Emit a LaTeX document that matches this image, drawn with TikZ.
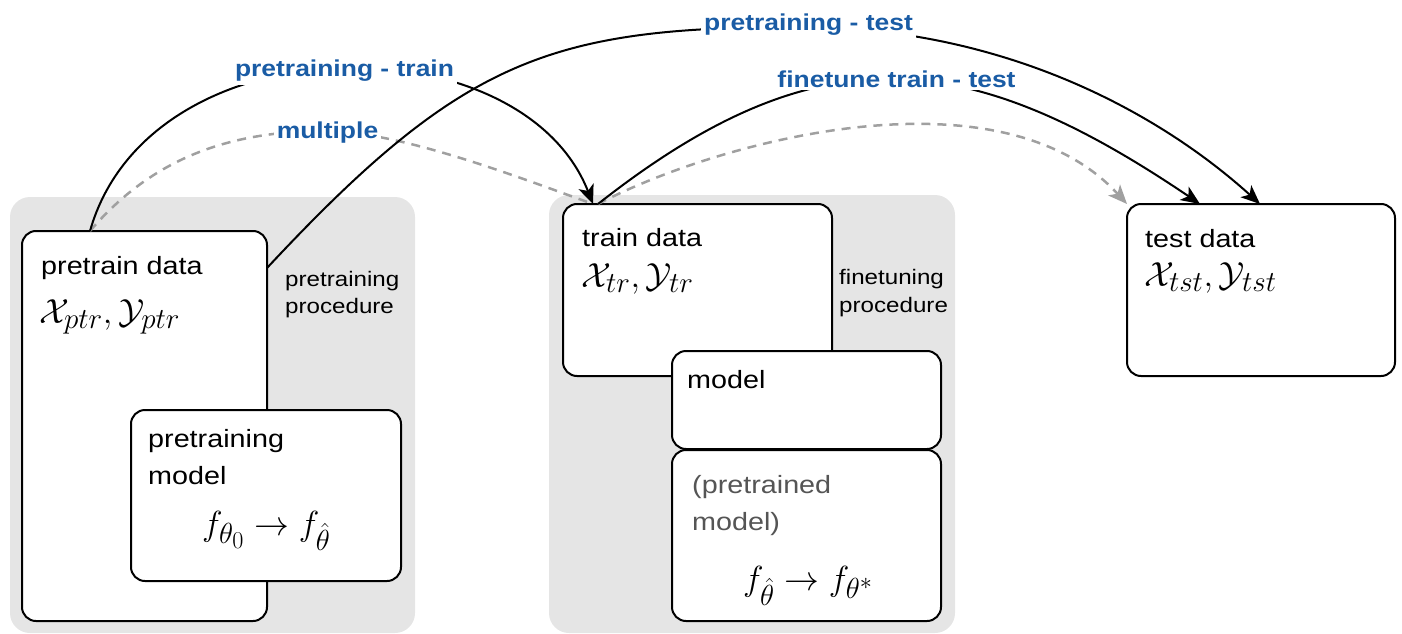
\documentclass[tikz,border=0pt]{standalone}
\usepackage{graphicx}
\usepackage{amsmath}
\usepackage{fontspec}
\setmainfont{Liberation Sans}[FakeStretch=1.15]
\usetikzlibrary{arrows.meta,calc}
\definecolor{panelgray}{HTML}{E5E5E5}
\definecolor{tagblue}{HTML}{1A5CA5}
\definecolor{dashgray}{HTML}{A0A0A0}
\definecolor{notegray}{HTML}{555555}
% formulas are set at 24.88pt and enlarged
\newcommand{\bigmath}[1]{\scalebox{1.4}{$#1$}}
\begin{document}
\begin{tikzpicture}[x=1pt,y=-1pt,
  panel/.style={fill=panelgray, draw=none, rounded corners=20pt, inner sep=0pt, outer sep=0pt, anchor=north west},
  box/.style={draw, line width=2pt, fill=white, rounded corners=14pt, inner sep=0pt, outer sep=0pt, anchor=north west},
  txt/.style={font=\fontsize{25}{30}\selectfont, anchor=base west, inner sep=0pt},
  side/.style={font=\fontsize{21}{26}\selectfont, anchor=base west, inner sep=0pt},
  mth/.style={font=\fontsize{24.88}{30}\selectfont, anchor=base west, inner sep=0pt},
  tag/.style={font=\bfseries\fontsize{23}{28}\selectfont, text=tagblue, fill=white, inner sep=3pt, anchor=base},
  tipblk/.tip={Stealth[length=19pt,width=16pt,inset=5pt]},
  flow/.style={line width=2pt, -tipblk},
  multi/.style={line width=2.5pt, dashgray, dash pattern=on 9pt off 7pt}
]
\useasboundingbox (0,0) rectangle (1402,634);

% procedure panels
\node[panel, minimum width=405pt, minimum height=436pt] (pnlPre) at (10,197) {};
\node[panel, minimum width=406pt, minimum height=438pt] (pnlFine) at (549,195) {};

% data and model boxes
\node[box, minimum width=245pt, minimum height=390pt] (ptr) at (22,231) {};
\node[box, minimum width=270pt, minimum height=171pt] (pm) at (131,410) {};
\node[box, minimum width=269pt, minimum height=172pt] (tr) at (563,204) {};
\node[box, minimum width=269pt, minimum height=98pt] (md) at (672,351) {};
\node[box, minimum width=269pt, minimum height=171pt] (pd) at (672,450) {};
\node[box, minimum width=268pt, minimum height=172pt] (ts) at (1127,204) {};

% box contents
\node[txt] (ptrT) at (41,274) {pretrain data};
\node[mth] (ptrM) at (39,323) {\bigmath{\mathcal{X}_{ptr},\mathcal{Y}_{ptr}}};
\node[side] (preP1) at (285,286) {pretraining};
\node[side] (preP2) at (285,313) {procedure};
\node[txt] (pmT1) at (148,447) {pretraining};
\node[txt] (pmT2) at (148,484) {model};
\node[mth] (pmM) at (202,535) {\bigmath{f_{\theta_0}\rightarrow f_{\hat\theta}}};

\node[txt] (trT) at (582,246) {train data};
\node[mth] (trM) at (581,287) {\bigmath{\mathcal{X}_{tr},\mathcal{Y}_{tr}}};
\node[side] (ftP1) at (839,284) {finetuning};
\node[side] (ftP2) at (839,312) {procedure};
\node[txt] (mdT) at (687,388) {model};
\node[txt, text=notegray] (pdT1) at (692,493) {(pretrained};
\node[txt, text=notegray] (pdT2) at (692,530) {model)};
\node[mth] (pdM) at (743,590) {\bigmath{f_{\hat\theta}\rightarrow f_{\theta^*}}};

\node[txt] (tsT) at (1145,247) {test data};
\node[mth] (tsM) at (1144,286) {\bigmath{\mathcal{X}_{tst},\mathcal{Y}_{tst}}};

% connector end points on the box borders
\coordinate (ptrTop) at ($(ptr.north west)+(68,0)$);
\coordinate (ptrSide) at ($(ptr.north east)+(0,37)$);
\coordinate (trIn) at ($(tr.north west)+(30,0)$);
\coordinate (trOut) at ($(tr.north west)+(35,0)$);
\coordinate (tsInA) at ($(ts.north west)+(73,0)$);
\coordinate (tsInB) at ($(ts.north west)+(133,0)$);
\coordinate (tsInC) at (ts.north west);
% crests of the arcs that pass under their labels
\coordinate (arcTop) at (800,27);
\coordinate (dashTop) at (325,131);

% dashed "multiple" route
\draw[multi] (ptrTop) .. controls +(60,-70) and +(-100,0) .. (dashTop)
                      .. controls +(75,0) and +(-70,-25) .. (trIn);
\draw[multi, -{Stealth[length=19pt,width=16pt,inset=5pt]}] (trOut) .. controls +(122,-64) and +(-127,-138) .. (tsInC);

% solid transfer arcs
\draw[flow] (ptrTop) .. controls +(60,-211) and +(-72,-184) .. (trIn);
\draw[flow] (ptrSide) .. controls +(195,-209) and +(-250,0) .. (arcTop)
                      .. controls +(200,0) and +(-104,-94) .. (tsInB);
\draw[flow] (trOut) .. controls +(221,-174) and +(-232,-157) .. (tsInA);

% arc labels
\node[tag] (lblPT) at (344.5,77) {pretraining - train};
\node[tag] (lblMul) at (327.5,138) {multiple};
\node[tag] (lblPTe) at (808.5,31) {pretraining - test};
\node[tag] (lblFT) at (896.5,87) {finetune train - test};
\end{tikzpicture}
\end{document}
